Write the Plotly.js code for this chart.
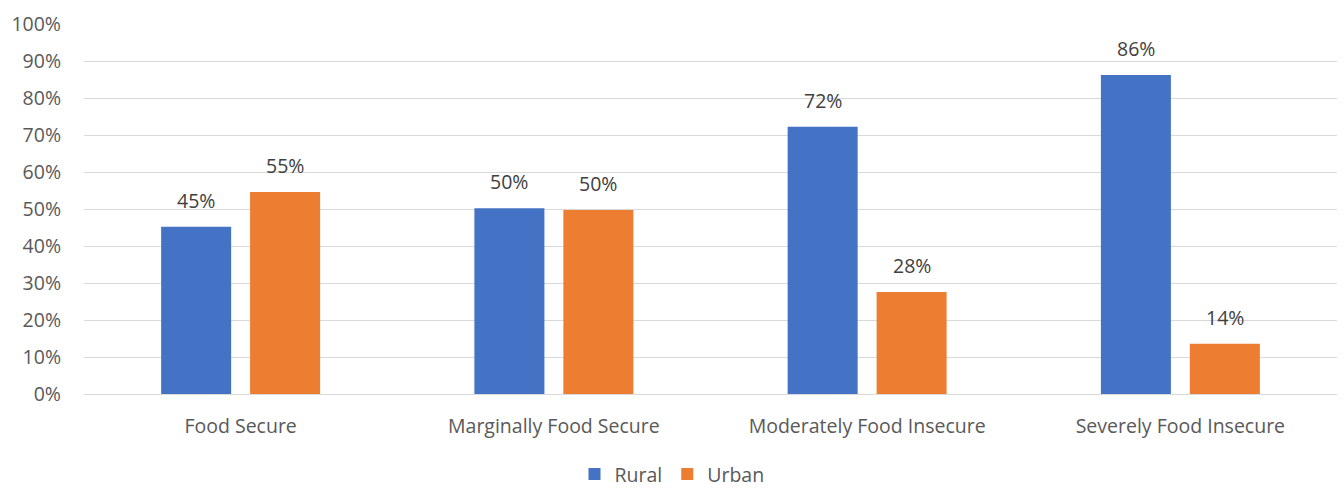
<!DOCTYPE html>
<html>
<head>
<meta charset="utf-8">
<script src="https://cdn.plot.ly/plotly-3.0.1.min.js"></script>
<style>html,body{margin:0;padding:0;background:#fff;}#chart{width:1344px;height:489px;}</style>
</head>
<body>
<div id="chart"></div>
<script>
const categories = ["Food Secure", "Marginally Food Secure", "Moderately Food Insecure", "Severely Food Insecure"];
const ruralValues = [0.452, 0.502, 0.722, 0.862];
const urbanValues = [0.546, 0.497, 0.276, 0.136];
const ruralLabels = ["45%", "50%", "72%", "86%"];
const urbanLabels = ["55%", "50%", "28%", "14%"];
const tickVals = [0, 0.1, 0.2, 0.3, 0.4, 0.5, 0.6, 0.7, 0.8, 0.9, 1.0];
const tickText = ["0%", "10%", "20%", "30%", "40%", "50%", "60%", "70%", "80%", "90%", "100%"];

const FONT = "Open Sans, Noto Sans, sans-serif";
const FS = 19.5;

const traces = [
  {type: "bar", name: "Rural", x: categories, y: ruralValues, marker: {color: "#4472C4"}, hoverinfo: "none"},
  {type: "bar", name: "Urban", x: categories, y: urbanValues, marker: {color: "#ED7D31"}, hoverinfo: "none"}
];

const annotations = [];
[[ruralValues, ruralLabels, -44.5], [urbanValues, urbanLabels, 44.5]].forEach(([vals, labs, dx]) => {
  categories.forEach((c, i) => {
    annotations.push({x: c, y: vals[i], text: labs[i], showarrow: false, xref: "x", yref: "y",
      xanchor: "center", yanchor: "bottom", xshift: dx, yshift: 11,
      font: {family: FONT, size: FS, color: "#404040"}});
  });
});

const layout = {
  width: 1344, height: 489,
  margin: {l: 84, r: 7, t: 24, b: 95, autoexpand: false},
  paper_bgcolor: "#fff", plot_bgcolor: "#fff",
  font: {family: FONT, color: "#595959", size: FS},
  barmode: "group", bargap: 0.432, bargroupgap: 0.213,
  annotations: annotations,
  xaxis: {type: "category", showgrid: false, zeroline: false, showline: false, ticks: "",
          ticklabelstandoff: 18, tickfont: {size: FS, color: "#595959"}, automargin: false},
  yaxis: {range: [0, 1.0], tickvals: tickVals, ticktext: tickText, showgrid: true,
          gridcolor: "#d9d9d9", gridwidth: 1, zeroline: true, zerolinecolor: "#d9d9d9",
          zerolinewidth: 1, showline: false, ticks: "", ticklabelstandoff: 22,
          tickfont: {size: FS, color: "#595959"}, automargin: false},
  legend: {orientation: "h", x: 0.5, xref: "container", xanchor: "center",
           y: 0.03, yref: "container", yanchor: "middle", bgcolor: "rgba(0,0,0,0)",
           font: {size: FS, color: "#595959"}, itemwidth: 30, traceorder: "normal"},
  showlegend: true
};

Plotly.newPlot("chart", traces, layout, {displayModeBar: false, staticPlot: true});
</script>
</body>
</html>
